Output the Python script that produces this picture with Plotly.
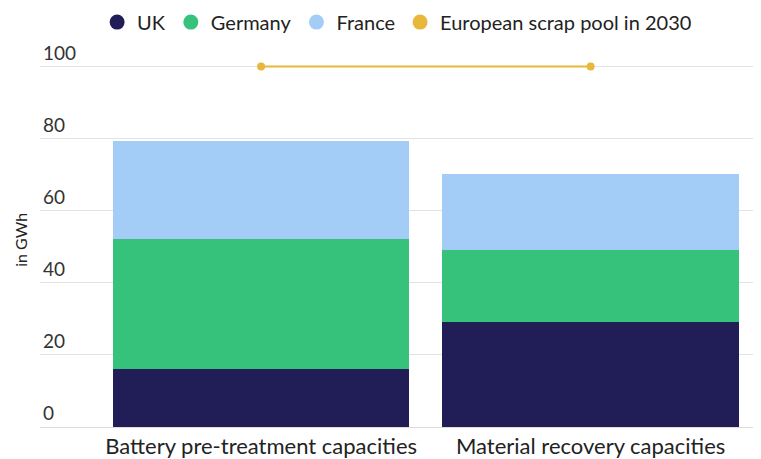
import plotly.graph_objects as go

categories = ["Battery pre-treatment capacities", "Material recovery capacities"]
uk = [16.2, 29.0]
germany = [35.9, 20.2]
france = [27.2, 20.9]
scrap_pool = [100, 100]
series_names = ["UK", "Germany", "France", "European scrap pool in 2030"]
colors = ["#211e57", "#37c27c", "#a3cdf7", "#e9b73b"]
y_ticks = [0, 20, 40, 60, 80, 100]

FONT = "Lato"
# page body has an 8px margin; figure sized/offset to compensate
fig = go.Figure()
for name, vals, col in zip(series_names[:3], [uk, germany, france], colors[:3]):
    fig.add_trace(go.Bar(x=categories, y=vals, name=name, marker=dict(color=col, line=dict(width=0)),
                         showlegend=False))
fig.add_trace(go.Scatter(x=categories, y=scrap_pool, mode="lines+markers", name=series_names[3],
                         line=dict(color=colors[3], width=2), marker=dict(size=8, color=colors[3]),
                         showlegend=False))
for name, col in zip(series_names, colors):
    fig.add_trace(go.Scatter(x=[None], y=[None], mode="markers", name=name,
                             marker=dict(size=15, color=col, symbol="circle")))

fig.update_layout(
    width=753, height=451,
    barmode="stack", bargap=0.1,
    plot_bgcolor="white", paper_bgcolor="white",
    margin=dict(l=32, r=1, t=37, b=32, autoexpand=False),
    font=dict(family=FONT, color="#222222"),
    legend=dict(orientation="h", x=0.496, xanchor="center", y=1.06, yanchor="middle", yref="paper",
                font=dict(size=20, family=FONT, color="#222222"), itemwidth=30, traceorder="normal"),
    showlegend=True,
)
fig.update_xaxes(range=[-0.671, 1.514], showgrid=False, showline=False, ticks="",
                 tickfont=dict(size=22, family=FONT, color="#222222"), automargin=False, fixedrange=True,
                 ticklabelstandoff=4)
fig.update_yaxes(range=[0, 106], tickvals=y_ticks, ticktext=[str(v) for v in y_ticks],
                 showgrid=True, gridcolor="#e3e3e3", gridwidth=1, zeroline=True, zerolinecolor="#dcdcdc",
                 zerolinewidth=1, ticklabelposition="inside top", ticklabeloverflow="allow", ticks="",
                 tickfont=dict(size=19, family=FONT, color="#333333"), automargin=False)
fig.add_annotation(text="in GWh", xref="paper", yref="paper", x=-0.0264, y=0.49, textangle=-90,
                   xanchor="center", yanchor="middle", showarrow=False,
                   font=dict(size=16, family=FONT, color="#222222"))
fig.write_html("out.html")
